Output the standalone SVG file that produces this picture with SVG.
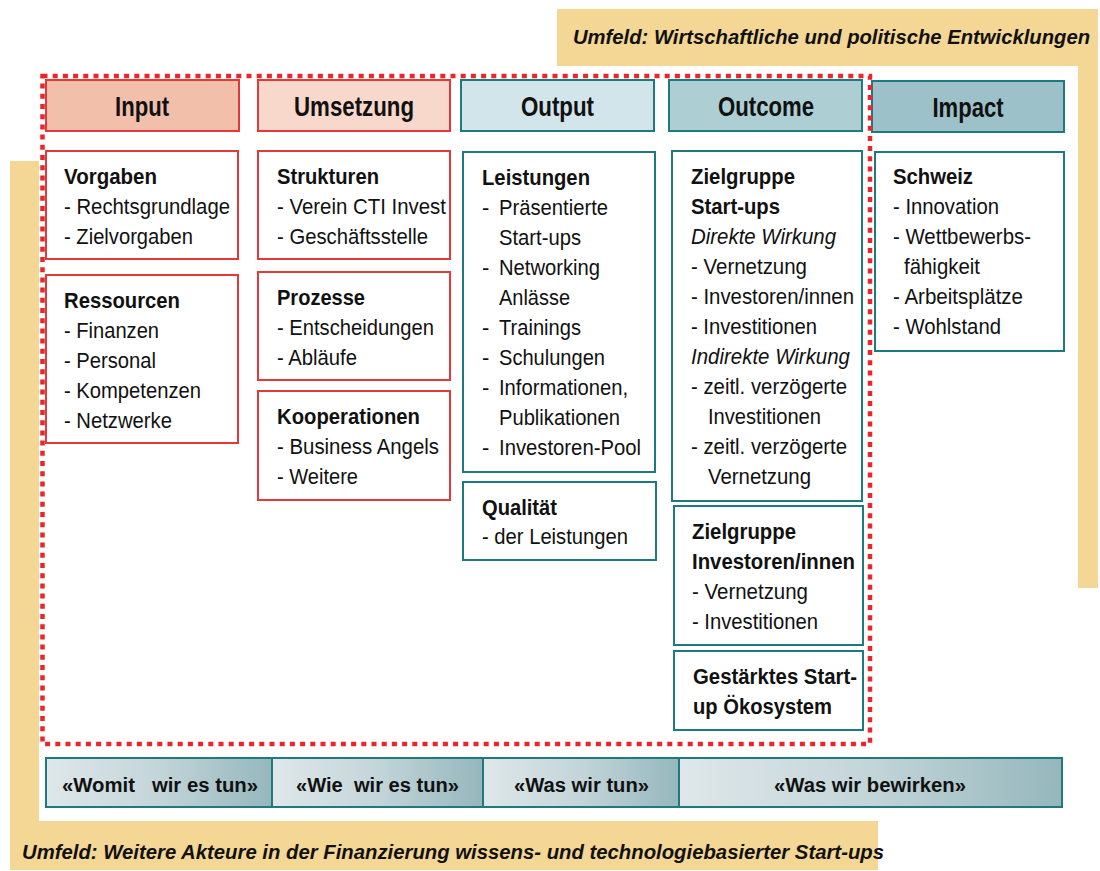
<svg xmlns="http://www.w3.org/2000/svg" width="1100" height="871" viewBox="0 0 1100 871">
<style>
.t{font-family:"Liberation Sans",Arial,sans-serif;font-size:22px;fill:#111}
.b{font-weight:bold}
.i{font-style:italic}
.h{font-family:"Liberation Sans",Arial,sans-serif;font-size:28px;font-weight:bold;fill:#111;text-anchor:middle}
.f{font-family:"Liberation Sans",Arial,sans-serif;font-size:20px;font-weight:bold;fill:#111;text-anchor:middle;white-space:pre}
.u{font-family:"Liberation Sans",Arial,sans-serif;font-size:21px;font-weight:bold;font-style:italic;fill:#111}
.rb{fill:#fff;stroke:#e4393b;stroke-width:2}
.gb{fill:#fff;stroke:#1f7a80;stroke-width:2}
.env{fill:#f4d794}
.seg{fill:url(#barGrad);stroke:#1f7a80;stroke-width:2}
</style>
<defs>
<linearGradient id="barGrad" x1="0" y1="0" x2="1" y2="0">
<stop offset="0" stop-color="#dfe7ea"/>
<stop offset="0.5" stop-color="#c3d5d9"/>
<stop offset="1" stop-color="#95b7bc"/>
</linearGradient>
</defs>
<rect width="1100" height="871" fill="#fff"/>

<g id="umfeld-top">
<path class="env" d="M557,9 H1098 V588 H1078 V66 H557 Z"/>
<text class="u" transform="translate(573,44) scale(1,1.17)" x="0" y="0" style="font-size:18px" textLength="517" lengthAdjust="spacingAndGlyphs">Umfeld: Wirtschaftliche und politische Entwicklungen</text>
</g>
<g id="umfeld-bottom">
<path class="env" d="M10,161 H39 V821 H878 V870 H10 Z"/>
<text class="u" x="22" y="859" textLength="862" lengthAdjust="spacingAndGlyphs">Umfeld: Weitere Akteure in der Finanzierung wissens- und technologiebasierter Start-ups</text>
</g>

<g id="header-input">
<rect x="46" y="80" width="193" height="51" fill="#f2bfab" stroke="#e4393b" stroke-width="2"/>
<text class="h" x="142" y="116" textLength="54" lengthAdjust="spacingAndGlyphs">Input</text>
</g>
<g id="header-umsetzung">
<rect x="258" y="80" width="192" height="51" fill="#f8d8cb" stroke="#e4393b" stroke-width="2"/>
<text class="h" x="354" y="116" textLength="120" lengthAdjust="spacingAndGlyphs">Umsetzung</text>
</g>
<g id="header-output">
<rect x="461" y="80" width="193" height="51" fill="#d1e5ea" stroke="#1f7a80" stroke-width="2"/>
<text class="h" x="557.5" y="116" textLength="73" lengthAdjust="spacingAndGlyphs">Output</text>
</g>
<g id="header-outcome">
<rect x="669" y="80" width="193" height="51" fill="#adcfd4" stroke="#1f7a80" stroke-width="2"/>
<text class="h" x="766" y="116" textLength="96" lengthAdjust="spacingAndGlyphs">Outcome</text>
</g>
<g id="header-impact">
<rect x="872" y="81" width="192" height="51" fill="#9cc1c8" stroke="#1f7a80" stroke-width="2"/>
<text class="h" x="968" y="117" textLength="71" lengthAdjust="spacingAndGlyphs">Impact</text>
</g>

<g id="vorgaben">
<rect class="rb" x="46" y="151" width="192" height="108"/>
<text class="t b" x="64" y="184" textLength="93" lengthAdjust="spacingAndGlyphs">Vorgaben</text>
<text class="t" x="64" y="214" textLength="166" lengthAdjust="spacingAndGlyphs">- Rechtsgrundlage</text>
<text class="t" x="64" y="244" textLength="129" lengthAdjust="spacingAndGlyphs">- Zielvorgaben</text>
</g>
<g id="ressourcen">
<rect class="rb" x="46" y="275" width="192" height="168"/>
<text class="t b" x="64" y="308" textLength="116" lengthAdjust="spacingAndGlyphs">Ressourcen</text>
<text class="t" x="64" y="338" textLength="95" lengthAdjust="spacingAndGlyphs">- Finanzen</text>
<text class="t" x="64" y="368" textLength="92" lengthAdjust="spacingAndGlyphs">- Personal</text>
<text class="t" x="64" y="398" textLength="137" lengthAdjust="spacingAndGlyphs">- Kompetenzen</text>
<text class="t" x="64" y="428" textLength="108" lengthAdjust="spacingAndGlyphs">- Netzwerke</text>
</g>

<g id="strukturen">
<rect class="rb" x="258" y="151" width="192" height="108"/>
<text class="t b" x="277" y="184" textLength="102" lengthAdjust="spacingAndGlyphs">Strukturen</text>
<text class="t" x="277" y="214" textLength="169" lengthAdjust="spacingAndGlyphs">- Verein CTI Invest</text>
<text class="t" x="277" y="244" textLength="151" lengthAdjust="spacingAndGlyphs">- Geschäftsstelle</text>
</g>
<g id="prozesse">
<rect class="rb" x="258" y="272" width="192" height="108"/>
<text class="t b" x="277" y="305" textLength="88" lengthAdjust="spacingAndGlyphs">Prozesse</text>
<text class="t" x="277" y="335" textLength="157" lengthAdjust="spacingAndGlyphs">- Entscheidungen</text>
<text class="t" x="277" y="365" textLength="80" lengthAdjust="spacingAndGlyphs">- Abläufe</text>
</g>
<g id="kooperationen">
<rect class="rb" x="258" y="391" width="192" height="109"/>
<text class="t b" x="277" y="424" textLength="143" lengthAdjust="spacingAndGlyphs">Kooperationen</text>
<text class="t" x="277" y="454" textLength="162" lengthAdjust="spacingAndGlyphs">- Business Angels</text>
<text class="t" x="277" y="484" textLength="81" lengthAdjust="spacingAndGlyphs">- Weitere</text>
</g>

<g id="leistungen">
<rect class="gb" x="463" y="152" width="192" height="320"/>
<text class="t b" x="482" y="185" textLength="108" lengthAdjust="spacingAndGlyphs">Leistungen</text>
<text class="t" x="482" y="215">-</text>
<text class="t" x="499" y="215" textLength="109" lengthAdjust="spacingAndGlyphs">Präsentierte</text>
<text class="t" x="499" y="245" textLength="82" lengthAdjust="spacingAndGlyphs">Start-ups</text>
<text class="t" x="482" y="275">-</text>
<text class="t" x="499" y="275" textLength="101" lengthAdjust="spacingAndGlyphs">Networking</text>
<text class="t" x="499" y="305" textLength="71" lengthAdjust="spacingAndGlyphs">Anlässe</text>
<text class="t" x="482" y="335">-</text>
<text class="t" x="499" y="335" textLength="82" lengthAdjust="spacingAndGlyphs">Trainings</text>
<text class="t" x="482" y="365">-</text>
<text class="t" x="499" y="365" textLength="106" lengthAdjust="spacingAndGlyphs">Schulungen</text>
<text class="t" x="482" y="395">-</text>
<text class="t" x="499" y="395" textLength="129" lengthAdjust="spacingAndGlyphs">Informationen,</text>
<text class="t" x="499" y="425" textLength="121" lengthAdjust="spacingAndGlyphs">Publikationen</text>
<text class="t" x="482" y="455">-</text>
<text class="t" x="499" y="455" textLength="142" lengthAdjust="spacingAndGlyphs">Investoren-Pool</text>
</g>
<g id="qualitaet">
<rect class="gb" x="463" y="482" width="193" height="78"/>
<text class="t b" x="482" y="515" textLength="75" lengthAdjust="spacingAndGlyphs">Qualität</text>
<text class="t" x="482" y="544" textLength="146" lengthAdjust="spacingAndGlyphs">- der Leistungen</text>
</g>

<g id="zielgruppe-startups">
<rect class="gb" x="672" y="151" width="190" height="350"/>
<text class="t b" x="691" y="184" textLength="104" lengthAdjust="spacingAndGlyphs">Zielgruppe</text>
<text class="t b" x="691" y="214" textLength="89" lengthAdjust="spacingAndGlyphs">Start-ups</text>
<text class="t i" x="691" y="244" textLength="145" lengthAdjust="spacingAndGlyphs">Direkte Wirkung</text>
<text class="t" x="691" y="274" textLength="116" lengthAdjust="spacingAndGlyphs">- Vernetzung</text>
<text class="t" x="691" y="304" textLength="163" lengthAdjust="spacingAndGlyphs">- Investoren/innen</text>
<text class="t" x="691" y="334" textLength="126" lengthAdjust="spacingAndGlyphs">- Investitionen</text>
<text class="t i" x="691" y="364" textLength="159" lengthAdjust="spacingAndGlyphs">Indirekte Wirkung</text>
<text class="t" x="691" y="394" textLength="156" lengthAdjust="spacingAndGlyphs">- zeitl. verzögerte</text>
<text class="t" x="708" y="424" textLength="113" lengthAdjust="spacingAndGlyphs">Investitionen</text>
<text class="t" x="691" y="454" textLength="156" lengthAdjust="spacingAndGlyphs">- zeitl. verzögerte</text>
<text class="t" x="708" y="484" textLength="103" lengthAdjust="spacingAndGlyphs">Vernetzung</text>
</g>
<g id="zielgruppe-investoren">
<rect class="gb" x="674" y="506" width="189" height="139"/>
<text class="t b" x="692" y="539" textLength="104" lengthAdjust="spacingAndGlyphs">Zielgruppe</text>
<text class="t b" x="692" y="569" textLength="163" lengthAdjust="spacingAndGlyphs">Investoren/innen</text>
<text class="t" x="692" y="599" textLength="116" lengthAdjust="spacingAndGlyphs">- Vernetzung</text>
<text class="t" x="692" y="629" textLength="126" lengthAdjust="spacingAndGlyphs">- Investitionen</text>
</g>
<g id="oekosystem">
<rect class="gb" x="674" y="651" width="189" height="79"/>
<text class="t b" x="693" y="684" textLength="164" lengthAdjust="spacingAndGlyphs">Gestärktes Start-</text>
<text class="t b" x="693" y="714" textLength="139" lengthAdjust="spacingAndGlyphs">up Ökosystem</text>
</g>

<g id="schweiz">
<rect class="gb" x="875" y="152" width="189" height="199"/>
<text class="t b" x="893" y="184" textLength="80" lengthAdjust="spacingAndGlyphs">Schweiz</text>
<text class="t" x="893" y="214" textLength="106" lengthAdjust="spacingAndGlyphs">- Innovation</text>
<text class="t" x="893" y="244" textLength="138" lengthAdjust="spacingAndGlyphs">- Wettbewerbs-</text>
<text class="t" x="904" y="274" textLength="76" lengthAdjust="spacingAndGlyphs">fähigkeit</text>
<text class="t" x="893" y="304" textLength="130" lengthAdjust="spacingAndGlyphs">- Arbeitsplätze</text>
<text class="t" x="893" y="334" textLength="108" lengthAdjust="spacingAndGlyphs">- Wohlstand</text>
</g>

<g id="frame-input-output">
<rect x="42.5" y="76" width="827.5" height="668" fill="none" stroke="#e8262b" stroke-width="4.5" stroke-dasharray="5 5.2"/>
</g>

<g id="bar-womit">
<rect class="seg" x="46" y="758" width="226" height="49"/>
<text class="f" x="160" y="792" textLength="196" lengthAdjust="spacingAndGlyphs">«Womit   wir es tun»</text>
</g>
<g id="bar-wie">
<rect class="seg" x="272" y="758" width="211" height="49"/>
<text class="f" x="377.5" y="792" textLength="163" lengthAdjust="spacingAndGlyphs">«Wie  wir es tun»</text>
</g>
<g id="bar-was">
<rect class="seg" x="483" y="758" width="196" height="49"/>
<text class="f" x="581.5" y="792" textLength="135" lengthAdjust="spacingAndGlyphs">«Was wir tun»</text>
</g>
<g id="bar-bewirken">
<rect class="seg" x="679" y="758" width="383" height="49"/>
<text class="f" x="870" y="792" textLength="192" lengthAdjust="spacingAndGlyphs">«Was wir bewirken»</text>
</g>

<g id="connectors"/>
</svg>
